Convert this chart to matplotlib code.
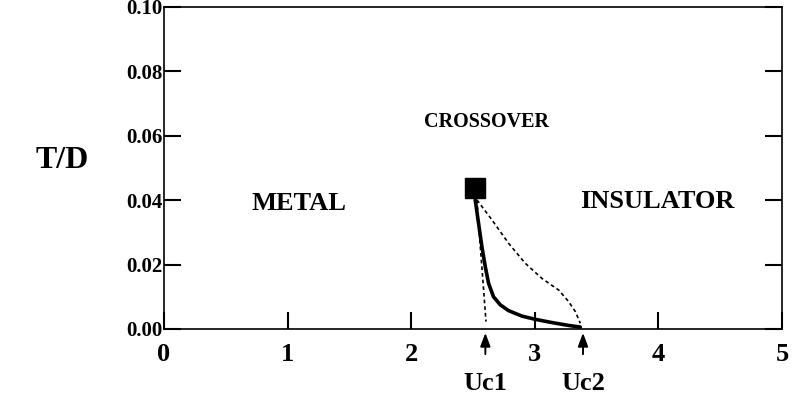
import matplotlib
matplotlib.use("Agg")
import matplotlib.pyplot as plt
from matplotlib import transforms

plt.rcParams['font.family'] = ['Liberation Serif', 'DejaVu Serif']
plt.rcParams['font.weight'] = 'bold'

# Data
critical_point = (2.52, 0.0439)
solid_U = [2.518, 2.545, 2.572, 2.599, 2.626, 2.666, 2.721, 2.788, 2.896, 3.004, 3.139, 3.274, 3.368]
solid_T = [0.0401, 0.0328, 0.0256, 0.0194, 0.0142, 0.0100, 0.0075, 0.0057, 0.0040, 0.0030, 0.0020, 0.0011, 0.0006]
uc1_U = [2.532, 2.559, 2.586, 2.605]
uc1_T = [0.0401, 0.0256, 0.0121, 0.0023]
uc2_U = [2.532, 2.653, 2.788, 2.923, 3.058, 3.193, 3.274, 3.328, 3.368]
uc2_T = [0.0401, 0.0339, 0.0266, 0.0204, 0.0157, 0.0121, 0.0085, 0.0054, 0.0018]
x_ticks = [0, 1, 2, 3, 4, 5]
y_ticks = [0.00, 0.02, 0.04, 0.06, 0.08, 0.10]
y_tick_labels = ['0.00', '0.02', '0.04', '0.06', '0.08', '0.10']
region_labels = ['METAL', 'CROSSOVER', 'INSULATOR']
region_pos = [(1.093, 0.039), (2.607, 0.0644), (3.99, 0.0395)]
region_sizes = [19, 14.5, 19]
uc_labels = ['Uc1', 'Uc2']
uc_values = [2.60, 3.39]

fig = plt.figure(figsize=(8.01, 3.93), dpi=100)
ax = fig.add_axes([164/801, 1-329/393, (782-164)/801, 322/393])

ax.plot(uc1_U, uc1_T, color='black', lw=1.2, ls=(0, (2.2, 1.8)), zorder=2)
ax.plot(uc2_U, uc2_T, color='black', lw=1.2, ls=(0, (2.2, 1.8)), zorder=2)
ax.plot(solid_U, solid_T, color='black', lw=2.6, zorder=3,
        solid_capstyle='round', solid_joinstyle='round')
ax.plot([critical_point[0]], [critical_point[1]], marker='s', color='black',
        markersize=14.5, zorder=4)

ax.set_xlim(0, 5)
ax.set_ylim(0, 0.10)
ax.set_xticks(x_ticks)
ax.set_xticklabels([str(v) for v in x_ticks], fontsize=19, fontweight='bold')
ax.set_yticks(y_ticks)
ax.set_yticklabels(y_tick_labels, fontsize=15, fontweight='bold')
ax.tick_params(axis='x', direction='in', length=12.5, width=1.5, pad=10,
               top=False, bottom=True)
ax.tick_params(axis='y', direction='in', length=12.5, width=1.5, pad=1,
               left=True, right=True)
for s in ax.spines.values():
    s.set_linewidth(1.2)

for lab, (x, y), fs in zip(region_labels, region_pos, region_sizes):
    ax.text(x, y, lab, ha='center', va='center', fontsize=fs, fontweight='bold')

trans = transforms.blended_transform_factory(ax.transData, ax.transAxes)
for lab, u in zip(uc_labels, uc_values):
    ax.annotate('', xy=(u, -0.012), xycoords=trans, xytext=(u, -0.078),
                textcoords=trans,
                arrowprops=dict(arrowstyle='-|>,head_length=0.8,head_width=0.3',
                                color='black', lw=1.4, shrinkA=0, shrinkB=0),
                annotation_clip=False)
    ax.text(u, -0.168, lab, transform=trans, ha='center', va='center',
            fontsize=19, fontweight='bold', clip_on=False)

fig.text(62/801, 1-160/393, 'T/D', ha='center', va='center', fontsize=23,
         fontweight='bold')

fig.savefig('out.png', dpi=100)
